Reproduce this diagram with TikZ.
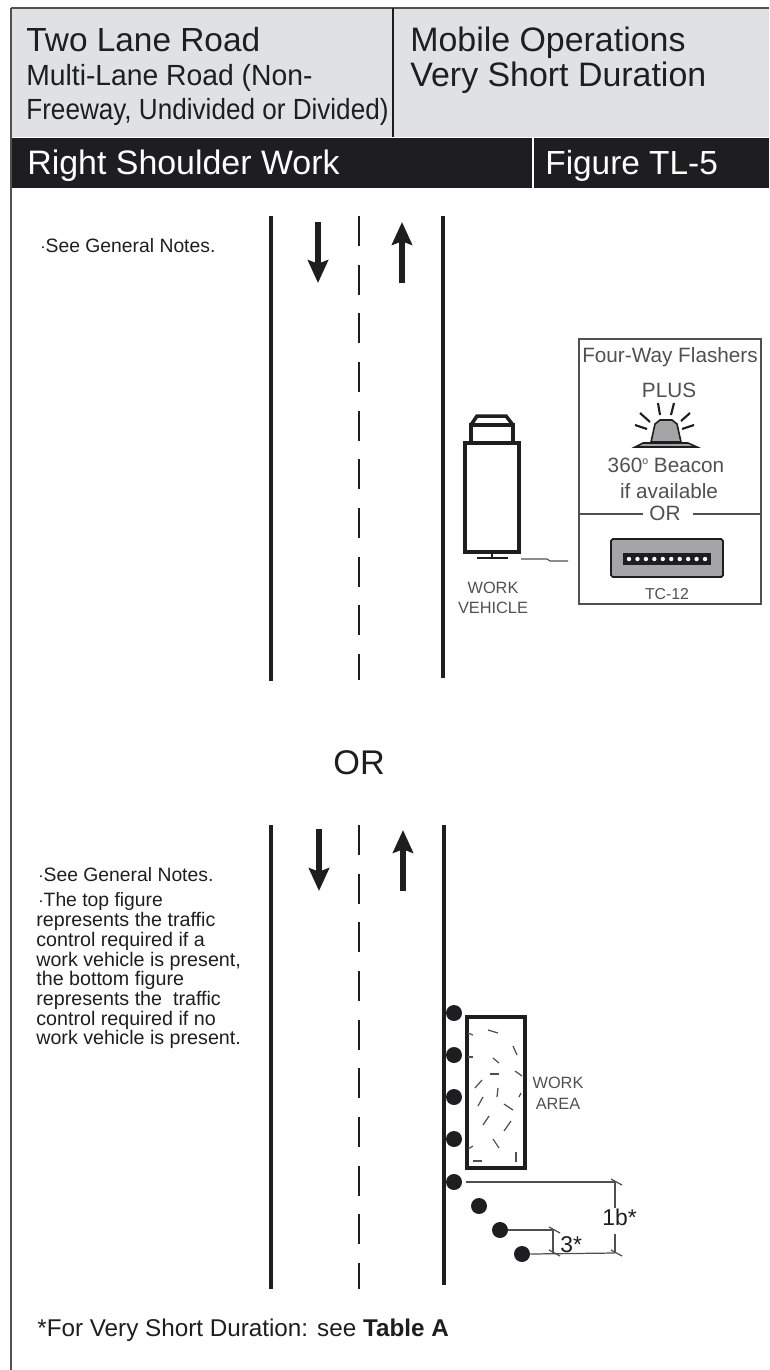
\documentclass[tikz,border=0pt]{standalone}
\usepackage{fontspec}
\setmainfont{Liberation Sans}
\newfontfamily\subfonta[FakeStretch=0.97]{Liberation Sans}
\newfontfamily\subfontb[FakeStretch=0.895]{Liberation Sans}
\usepackage{xcolor}
\usetikzlibrary{arrows.meta,calc}
\definecolor{cvpanel}{RGB}{224,225,227}
\definecolor{cvink}{RGB}{30,30,32}
\definecolor{cvtext}{RGB}{80,80,82}
\definecolor{cvboard}{RGB}{165,165,167}
\newcommand{\fs}[1]{\fontsize{#1}{#1}\selectfont}
\begin{document}
\begin{tikzpicture}[
  x=0.02cm,y=-0.02cm,
  lbl/.style={inner sep=0pt,anchor=base west,text=cvink},
  ctr/.style={inner sep=0pt,anchor=base,text=cvtext},
  road/.style={draw=cvink,line width=2.7pt},
  lane/.style={draw=cvink,line width=1.4pt,dash pattern=on 17pt off 10.7pt},
  flow/.style={draw=cvink,line width=3.2pt,-{Stealth[length=13pt,width=11.5pt,inset=2pt]}},
  drum/.style={circle,fill=cvink,inner sep=0pt,minimum size=0.32cm},
  dimline/.style={draw=cvtext,line width=0.7pt},
  hatch/.style={draw=cvtext,line width=0.7pt}
]
\useasboundingbox (0,0) rectangle (769,1370);
% header
\fill[cvpanel] (11,9) rectangle (769,137);
\fill[cvink] (11,138) rectangle (769,188);
\draw[cvtext,line width=1pt] (11,8)--(769,8);
\draw[cvtext,line width=1.3pt] (11,8)--(11,1370);
\draw[cvink,line width=0.9pt] (393,8)--(393,137);
\draw[white,line width=0.8pt] (533,137)--(533,188);
\node[lbl,font=\fs{19}] (title) at (26,51) {Two Lane Road};
\node[lbl,font=\subfonta\fs{16.6}] (sub1) at (26,85) {Multi-Lane Road (Non-};
\node[lbl,font=\subfontb\fs{16.6}] (sub2) at (26,119) {Freeway, Undivided or Divided)};
\node[lbl,font=\fs{19.3}] (oper1) at (410,51) {Mobile Operations};
\node[lbl,font=\fs{19.3}] (oper2) at (410,86) {Very Short Duration};
\node[lbl,font=\fs{19.3},text=white] (band) at (27,174) {Right Shoulder Work};
\node[lbl,font=\fs{19},text=white] (figno) at (545,174) {Figure TL-5};

% top road
\draw[road] (271,216)--(271,681);
\draw[lane] (359,216)--(359,680);
\draw[road] (443,216)--(443,678);
\draw[flow] (318,222)--(318,283);
\draw[flow] (402,283)--(402,222);
\node[lbl,font=\fs{11}] (note1) at (40,252) {$\cdot$See General Notes.};

% work vehicle
\draw[cvink,line width=2pt] (465,443) rectangle (519,552);
\draw[cvink,line width=2pt] (471,443)--(471,425)--(513,425)--(513,443);
\draw[cvink,line width=2pt] (471,425)--(477,416)--(506,416)--(513,425);
\draw[cvink,line width=1.2pt] (492,552)--(492,558);
\draw[cvink,line width=1.6pt] (477,558)--(508,558);
\draw[dimline] (521,559)--(547,559)--(550,561)--(568,561);
\node[ctr,font=\fs{9.3}] (veh1) at (493,593) {WORK};
\node[ctr,font=\fs{9.3}] (veh2) at (493,613) {VEHICLE};

% flasher legend
\draw[cvtext,line width=1.1pt] (579,339) rectangle (761,604);
\node[ctr,font=\fs{11.8}] (flash) at (670,362) {Four-Way Flashers};
\node[ctr,font=\fs{11.8}] (plus) at (669,397) {PLUS};
\filldraw[cvink,fill=cvboard,line width=0.9pt] (651,442)--(655,424)--(660,420)--(672,420)--(677,424)--(681,442)--cycle;
\filldraw[cvink,fill=cvboard,line width=0.9pt] (635,447)--(643,443)--(688,443)--(697,447)--cycle;
\foreach \xa/\ya/\xb/\yb in {658/403/660/415,674/403/671/415,640/413/650/422,690/413/681/421,635/425/647/429,694/425/682/429}
  \draw[cvink,line width=1.2pt] (\xa,\ya)--(\xb,\yb);
\node[ctr,font=\fs{11.8}] (beacon) at (666,472) {360{\fs{6}\raisebox{4pt}{o}} Beacon};
\node[ctr,font=\fs{11.8}] (avail) at (669,498) {if available};
\node[ctr,font=\fs{11.8}] (alt) at (665,520) {OR};
\draw[cvtext,line width=0.6pt] (579,514)--(643,514);
\draw[cvtext,line width=0.6pt] (693,514)--(761,514);
\filldraw[cvink,fill=cvboard,line width=1pt,rounded corners=1pt] (611,539) rectangle (723,577);
\fill[cvink] (623,553) rectangle (711,565);
\foreach \k in {0,...,9}
  \fill[white!85!cvpanel] (629+\k*8.45,559) circle (2.2);
\node[ctr,font=\fs{9}] (tc) at (667,599) {TC-12};

\node[lbl,font=\fs{19.5}] (mid) at (333,774) {OR};

% bottom road
\draw[road] (271,825)--(271,1289);
\draw[lane] (359,825)--(359,1289);
\draw[road] (444,825)--(444,1285);
\draw[flow] (319,829)--(319,891);
\draw[flow] (403,891)--(403,830);
\node[lbl,font=\fs{11}] (note2) at (38,881) {$\cdot$See General Notes.};
\node[lbl,font=\fs{11}] (note3) at (38,906) {$\cdot$The top figure};
\node[lbl,font=\fs{11.2}] (note4) at (36,926) {represents the traffic};
\node[lbl,font=\fs{11.2}] (note5) at (36,946) {control required if a};
\node[lbl,font=\fs{11.2}] (note6) at (36,966) {work vehicle is present,};
\node[lbl,font=\fs{11.2}] (note7) at (36,985) {the bottom figure};
\node[lbl,font=\fs{11.2}] (note8) at (36,1005) {represents the\ \ traffic};
\node[lbl,font=\fs{11.2}] (note9) at (36,1025) {control required if no};
\node[lbl,font=\fs{11.2}] (note10) at (36,1044) {work vehicle is present.};

% work area
\draw[cvink,line width=2pt] (467,1017) rectangle (525,1168);
\foreach \xa/\ya/\xb/\yb in {488/1030/498/1033,513/1046/517/1055,493/1058/499/1063,490/1074/499/1074,515/1071/522/1076,482/1080/475/1088,498/1088/497/1097,483/1097/478/1106,504/1104/513/1110,489/1116/483/1125,511/1121/504/1131,493/1139/499/1148,473/1161/482/1161,516/1152/516/1162,468/1033/473/1035,468/1057/473/1057,473/1146/468/1149,521/1093/519/1097}
  \draw[hatch] (\xa,\ya)--(\xb,\yb);
\node[ctr,font=\fs{9.3}] (area1) at (558,1088) {WORK};
\node[ctr,font=\fs{9.3}] (area2) at (558,1109) {AREA};
\node[drum] (d1) at (454,1013) {};
\node[drum] (d2) at (454,1055) {};
\node[drum] (d3) at (454,1097) {};
\node[drum] (d4) at (454,1139) {};
\node[drum] (d5) at (454,1182) {};
\node[drum] (d6) at (479,1206) {};
\node[drum] (d7) at (500,1230) {};
\node[drum] (d8) at (522,1254) {};

% dimensions
\coordinate (dimA) at (615,1182);
\coordinate (dimB) at (615,1253);
\coordinate (dimC) at (553,1230);
\coordinate (dimD) at (553,1253);
\node[lbl,font=\fs{13}] (wide) at (602,1225) {1b*};
\node[lbl,font=\fs{13}] (gap) at (560,1252) {3*};
\draw[dimline] (d5.east)++(4,0)--(dimA);
\draw[dimline] (d8.east)--(dimB);
\draw[dimline] (d7.east)--(dimC);
\draw[dimline] (dimA)--(wide.north-|dimA);
\draw[dimline] (wide.south-|dimB)++(0,8)--(dimB);
\draw[dimline] (dimC)--(dimD);
\foreach \p in {dimA,dimB,dimC,dimD}
  \draw[dimline] ($(\p)+(-4,-3)$)--($(\p)+(7,3)$);

\node[lbl,font=\fs{13.8}] (foot) at (37,1336) {*For Very Short Duration: see \textbf{Table A}};
\end{tikzpicture}
\end{document}
